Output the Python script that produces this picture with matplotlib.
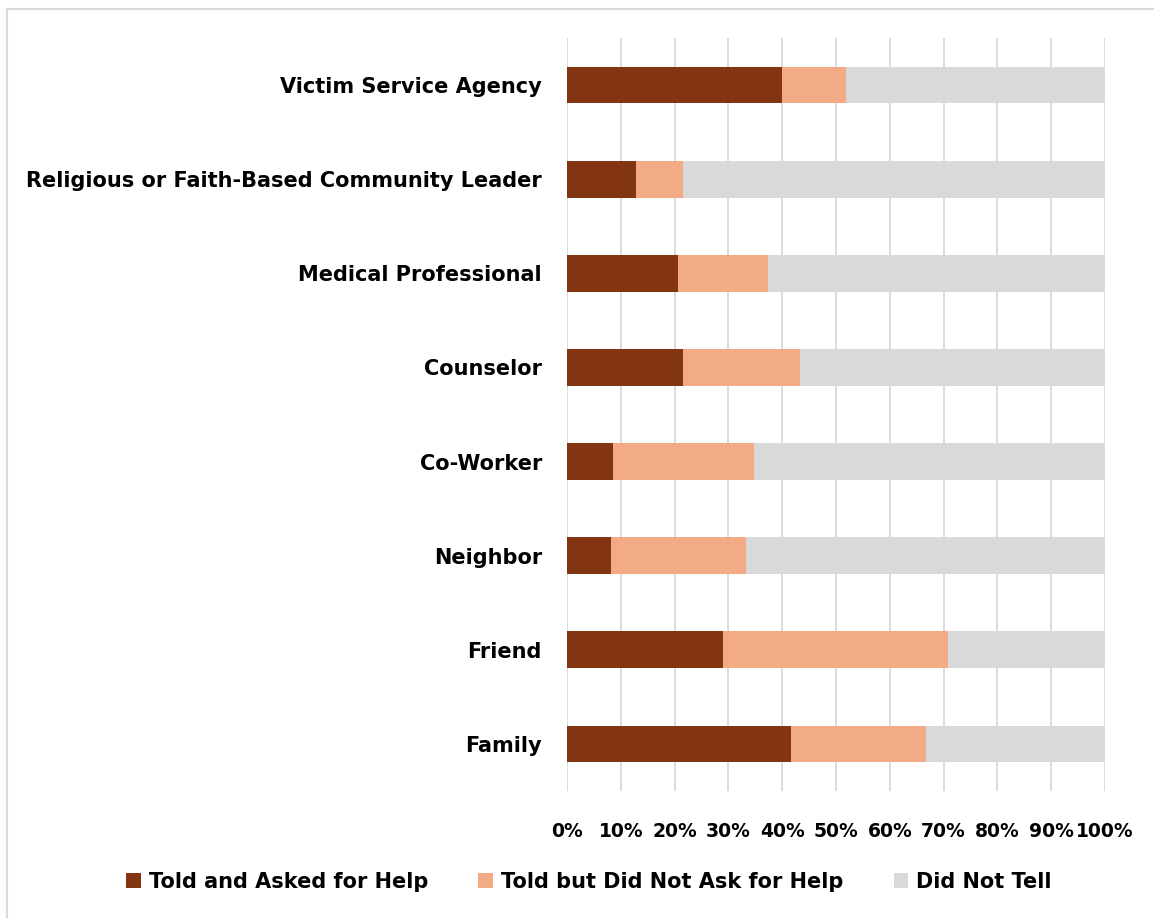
import matplotlib.pyplot as plt
import numpy as np
from matplotlib.patches import Rectangle

plt.rcParams['font.family'] = ['DejaVu Sans']

# who was told, bottom to top
categorias = ['Family', 'Friend', 'Neighbor', 'Co-Worker', 'Counselor',
              'Medical Professional', 'Religious or Faith-Based Community Leader',
              'Victim Service Agency']
pediu_ajuda = [41.6, 29.0, 8.2, 8.5, 21.6, 20.7, 12.9, 40.0]
nao_pediu = [25.1, 41.8, 25.1, 26.2, 21.8, 16.6, 8.6, 11.9]
nao_contou = [33.3, 29.2, 66.7, 65.3, 56.6, 62.7, 78.5, 48.1]
series = ['Told and Asked for Help', 'Told but Did Not Ask for Help', 'Did Not Tell']
cores = ['#833512', '#F2AB85', '#D9D9D9']

fig = plt.figure(figsize=(11.54, 9.18), dpi=100)
ax = fig.add_axes([0.4913, 0.1383, 0.4662, 0.8203])

y = np.arange(len(categorias))
esq = np.zeros(len(categorias))
for vals, nome, cor in zip([pediu_ajuda, nao_pediu, nao_contou], series, cores):
    ax.barh(y, vals, left=esq, height=0.39, color=cor, label=nome, zorder=3)
    esq = esq + np.array(vals)

ax.set_xlim(0, 100)
ax.set_ylim(-0.5, len(categorias) - 0.5)
ax.set_xticks(np.arange(0, 101, 10))
ax.set_xticklabels([f'{v}%' for v in range(0, 101, 10)], fontsize=13.5, fontweight='bold')
ax.set_yticks(y)
ax.set_yticklabels(categorias, fontsize=15, fontweight='bold')
ax.tick_params(axis='x', length=0, pad=22)
ax.tick_params(axis='y', length=0, pad=18)
ax.grid(axis='x', color='#D9D9D9', linewidth=1.3, zorder=0)
for s in ax.spines.values():
    s.set_visible(False)

fig.legend(loc='center', bbox_to_anchor=(589 / 1154, 1 - 882 / 918), ncol=3,
           frameon=False, handlelength=0.7, handleheight=0.7, handletextpad=0.4,
           columnspacing=2.4, prop={'size': 15, 'weight': 'bold'})

# light frame around the figure
fig.patches.append(Rectangle((7 / 1154, -0.01), 1.02, 1 - 9 / 918 + 0.01,
                             transform=fig.transFigure, fill=False,
                             edgecolor='#D9D9D9', linewidth=1.5))

fig.savefig('out.png', dpi=100)
